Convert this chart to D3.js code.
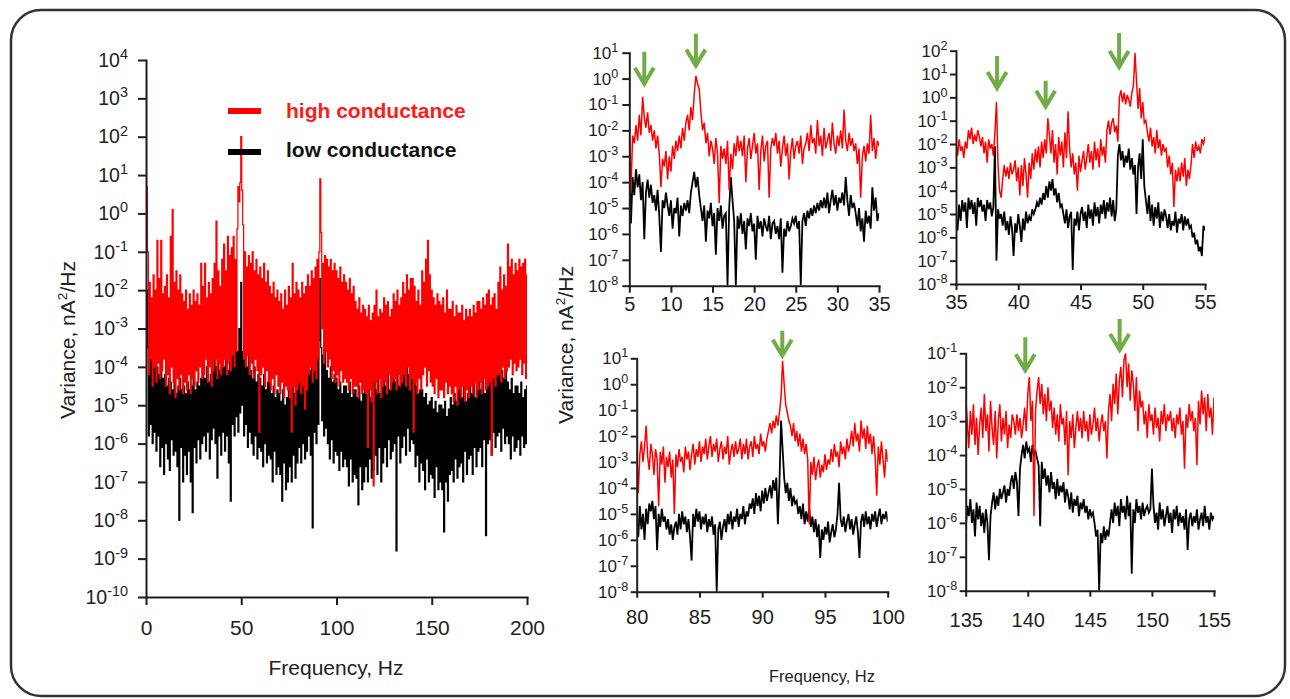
<!DOCTYPE html>
<html><head><meta charset="utf-8">
<script src="https://cdn.jsdelivr.net/npm/d3@7"></script>
<style>
html,body{margin:0;padding:0;background:#fff;}
svg{display:block;}
</style></head><body>
<svg id="chart" width="1290" height="699"></svg>
<script>
// All series values are 10*log10(variance / (nA^2/Hz)), evenly spaced over each panel's frequency range.
// Panel 0-200 Hz
const hcFull = [
36,7,-10,-42,-18,-38,-22,-45,-16,-40,
-20,-44,-7,-39,-17,-43,-7,-41,-21,-38,
-19,-45,-16,-42,-22,-47,-6,-40,1,-44,
-18,-48,-15,-43,-20,-46,-16,-42,-21,-47,
-23,-44,-20,-46,-25,-42,-21,-47,-24,-43,
-20,-45,-23,-41,-21,-44,-24,-40,-13,-43,
-19,-42,-13,-38,-22,-44,-18,-40,-21,-45,
-17,-41,-13,-38,-2,-43,-15,-39,-19,-42,
-12,-40,-8,-38,-15,-42,-6,-39,-11,-41,
-9,-37,-6,-40,-12,-36,-4,7,3,8,
20,6,-3,-38,-10,-40,-14,-37,-11,-42,
-13,-39,-10,-43,-15,-38,-12,-41,-16,-57,
-14,-42,-17,-40,-13,-45,-18,-41,-15,-44,
-19,-46,-21,-43,-18,-47,-22,-42,-20,-45,
-23,-47,-21,-44,-25,-48,-20,-45,-24,-46,
-19,-48,-22,-57,-13,-45,-21,-50,-18,-46,
-20,-44,-22,-47,-18,-45,-21,-51,-19,-46,
-16,-42,-19,-40,-15,-44,-17,-41,-14,-43,
-12,-38,-10,9,-5,-30,-13,-39,-11,-36,
-12,-40,-14,-38,-12,-43,-15,-41,-13,-44,
-15,-42,-17,-45,-14,-41,-18,-44,-16,-43,
-18,-44,-20,-46,-17,-43,-21,-47,-19,-45,
-23,-45,-25,-48,-22,-44,-26,-47,-24,-46,
-25,-47,-27,-61,-24,-46,-28,-49,-26,-71,
-24,-44,-20,-47,-27,-43,-25,-48,-26,-45,
-22,-44,-24,-47,-23,-42,-27,-46,-25,-44,
-21,-43,-23,-46,-20,-42,-24,-45,-22,-44,
-18,-42,-21,-45,-16,-40,-20,-46,-17,-43,
-17,-57,-19,-44,-23,-47,-20,-43,-24,-46,
-15,-42,-18,-40,-12,-45,-7,-41,-16,-44,
-20,-45,-22,-47,-24,-43,-21,-48,-23,-46,
-24,-46,-22,-48,-26,-44,-20,-47,-25,-45,
-25,-47,-23,-49,-27,-45,-24,-50,-26,-46,
-26,-48,-24,-45,-28,-49,-25,-46,-27,-48,
-25,-45,-27,-47,-24,-44,-26,-48,-23,-46,
-23,-44,-25,-47,-22,-43,-24,-46,-21,-45,
-20,-44,-24,-63,-22,-43,-21,-45,-25,-42,
-18,-42,-14,-44,-20,-40,-16,-43,-19,-41,
-8,-40,-14,-38,-12,-42,-16,-39,-13,-41,
-15,-40,-12,-38,-14,-42,-13,-39,-12,-43,
-16];
const lcFull = [
-13,-20,-35,-58,-32,-55,-36,-60,-34,-57,
-39,-62,-40,-58,-42,-66,-38,-61,-43,-68,
-42,-60,-45,-64,-43,-67,-44,-59,-46,-63,
-44,-62,-47,-66,-45,-80,-43,-61,-46,-70,
-45,-63,-47,-68,-44,-62,-46,-70,-45,-78,
-43,-61,-46,-65,-44,-59,-45,-64,-43,-60,
-41,-58,-43,-62,-40,-57,-44,-64,-42,-59,
-38,-56,-28,-60,-40,-69,-37,-58,-41,-63,
-37,-57,-40,-62,-36,-58,-41,-65,-38,-75,
-35,-55,-37,-58,-33,-53,-36,-57,-30,-52,
-18,-50,-36,-58,-38,-55,-40,-61,-37,-57,
-41,-60,-43,-63,-40,-58,-44,-64,-42,-61,
-43,-62,-45,-66,-42,-60,-46,-65,-44,-63,
-44,-64,-47,-70,-45,-62,-48,-68,-46,-66,
-47,-68,-49,-75,-46,-65,-50,-72,-48,-70,
-45,-66,-48,-70,-44,-63,-47,-69,-46,-65,
-42,-61,-44,-65,-41,-60,-45,-64,-43,-62,
-39,-58,-41,-63,-38,-82,-40,-57,-37,-60,
-36,-55,-33,-17,-35,-54,-37,-58,-36,-56,
-41,-60,-43,-64,-40,-59,-44,-65,-42,-62,
-43,-63,-46,-67,-44,-62,-47,-66,-45,-64,
-45,-66,-47,-71,-44,-64,-48,-70,-46,-68,
-46,-69,-48,-76,-45,-66,-49,-72,-47,-70,
-45,-66,-47,-70,-44,-64,-48,-69,-46,-67,
-44,-63,-46,-68,-43,-61,-47,-70,-45,-65,
-43,-61,-45,-66,-42,-59,-46,-64,-44,-62,
-42,-60,-44,-88,-41,-58,-45,-65,-43,-61,
-39,-58,-41,-63,-38,-56,-42,-62,-40,-59,
-37,-60,-44,-66,-45,-63,-47,-70,-46,-65,
-46,-67,-48,-72,-47,-64,-50,-70,-49,-68,
-48,-69,-51,-74,-49,-66,-52,-72,-50,-70,
-50,-72,-51,-83,-49,-70,-53,-75,-51,-68,
-48,-67,-50,-70,-47,-64,-49,-69,-46,-66,
-46,-65,-48,-70,-45,-62,-49,-68,-47,-64,
-45,-63,-47,-68,-44,-61,-48,-66,-46,-62,
-44,-61,-46,-66,-43,-59,-47,-84,-45,-60,
-41,-59,-43,-63,-40,-57,-42,-61,-41,-58,
-40,-57,-42,-62,-41,-56,-43,-60,-40,-58,
-44,-60,-46,-64,-43,-58,-47,-62,-45,-61,
-45,-59,-47,-63,-44,-58,-48,-61,-46,-60,
-45];
// Panel 5-35 Hz
const hc5to35 = [-20,-43,-22,-25,-18,-24,
-14,-22,-7,-15,-19,-13,-21,
-18,-24,-20,-27,-22,-29,-42,-31,
-34,-28,-39,-30,-36,
-26,-31,-24,-28,-22,-27,-19,-24,-17,
-14,-20,-11,-16,
-6,1,-2,-4,
-13,-20,-17,
-25,-21,-30,-24,-27,-33,-23,-29,-48,-26,-31,
-27,-33,-24,-43,-29,-35,-25,-30,-22,-28,
-24,-30,-22,-40,-27,-23,-31,-26,-21,-29,-25,-43,-28,-22,-32,-26,-24,-46,-27,-23,
-26,-21,-29,-24,-34,-27,-22,-30,-25,-39,-28,-23,-31,-26,-24,-29,-22,-33,-27,-25,
-21,-28,-18,-25,-23,-29,-16,-26,-22,-30,-19,-27,-24,-21,-28,-17,-25,-29,-22,-26,
-20,-27,-12,-24,-28,-21,-26,-23,
-28,-25,-33,-27,-46,-30,-26,-32,-25,-29,
-14,-28,-23,-31,-24,-26];
const lc5to35 = [-33,-56,-38,-45,-35,
-42,-37,-47,-40,-62,-44,-39,-46,-41,-48,
-45,-51,-43,-53,-67,-47,-50,-44,
-49,-53,-47,-58,-50,-52,-46,-61,-49,-53,-48,-51,-47,-52,
-44,-40,-36,-42,-38,-45,
-50,-55,-49,-63,-51,-54,-48,-57,-52,-68,-50,-55,-49,-58,-53,-52,
-80,-50,-38,-47,-55,-80,
-53,-58,-52,-60,-55,-66,-54,-57,-52,-59,-56,-70,-53,-58,-55,-61,-54,-57,-59,-53,-62,-56,
-55,-60,-57,-62,-54,-75,-58,-61,-55,-59,-57,-54,
-56,-53,-58,-55,-80,
-55,-52,-57,-51,-54,-50,-53,-49,-52,-48,-51,-47,-50,
-46,-50,-44,-52,-47,-43,-49,-45,-51,-46,-48,-44,
-49,-38,-47,-53,-45,-50,-48,
-52,-57,-50,-59,-54,-63,-51,-56,-53,-58,
-42,-51,-46,-55,-52];
// Panel 35-55 Hz
const hc35to55 = [-20,-25,-18,-23,-21,-26,-19,-22,
-14,-18,-13,-20,-16,-19,-14,-17,-21,
-17,-24,-19,-28,-18,-22,-20,-25,
-15,-2,
-29,-40,-43,-35,
-29,-34,-30,-35,-28,-33,-31,
-27,-36,-30,-42,-29,-38,-26,-33,-43,-28,-35,-24,-31,
-22,-28,-21,-30,-19,-26,-18,-24,
-9,
-16,-24,-14,-28,-20,-33,-17,-25,-19,-30,-15,-26,-6,
-22,-30,-24,-33,-28,-40,-25,-32,-27,-23,-31,-26,
-20,-28,-23,-31,-19,-27,-22,-30,-18,-25,-21,-28,
-14,-10,-16,-11,-9,-15,-12,
-19,
0,3,-2,2,-3,1,-1,-4,2,
5,19,
7,-5,4,-9,-2,-11,
-10,-15,-19,-13,-21,-17,-24,-14,-22,-18,-25,-20,-23,
-22,-30,-25,-33,-28,-47,-31,-36,
-30,-36,-28,-34,-26,-38,-31,-35,-29,
-20,-26,-19,-23,-21,-24,-18,-20,-17];
const lc35to55 = [-52,-57,-46,-53,-44,-49,-45,-56,-43,-48,-44,-50,-45,-55,-43,-47,-44,-49,-46,-53,-44,-48,-45,-51,-47,
-21,-70,
-48,-52,-50,-55,-49,-57,-53,-59,-51,-56,-68,-54,-58,-50,-55,-62,-52,-57,-49,-54,-51,-53,-48,-50,
-48,-45,-47,-43,-46,-41,-44,-38,-43,-36,-40,-35,-42,-39,-45,-41,-47,-46,
-50,-54,-48,-56,-51,-49,-74,-52,-55,-49,-57,-50,
-47,-53,-49,-56,-46,-52,-48,-55,-45,-51,-47,-54,-46,-50,-44,-52,-45,-49,-43,-51,-44,-53,-48,
-25,
-20,-27,-23,-30,-25,-28,-22,-31,-26,
-33,-29,-50,-30,-24,-35,-18,-38,
-44,-50,-42,-53,-46,-55,-47,-52,-45,-56,-49,-53,-48,
-51,-56,-50,-57,-53,-55,-49,-58,-52,-54,-50,-57,-51,-55,-52,-56,
-55,-60,-58,-63,-61,-66,-64,-68,-55,-57];
// Panel 80-100 Hz
const hc80to100 = [-25,-42,-27,
-22,-30,-24,-16,-28,-33,-23,-27,-35,-25,-29,-47,-26,-31,-24,-38,-28,-32,-26,-36,-29,
-50,
-27,-32,-25,-30,-28,-34,-24,-29,-26,-33,-27,-23,-31,-25,-28,-22,-30,-24,-27,-21,-29,
-24,-20,-28,-23,-26,-21,-30,-25,-22,-29,-24,-27,-20,-31,-26,-23,-28,-22,-27,-25,-21,-29,
-23,-27,-21,-29,-24,-22,-28,-20,-25,-23,-27,-19,-24,-22,-26,-21,
-18,-15,-19,-14,-17,-12,-16,-11,
-5,9,
0,-8,-11,-14,
-16,-20,-15,-22,-18,-24,-19,-26,-21,-27,-23,-29,
-54,
-30,-35,-28,-37,-32,-29,-36,-31,-34,-27,-33,-29,-31,
-25,-30,-23,-28,-26,-32,-22,-27,-24,-29,-21,-26,-23,
-18,-24,-15,-22,-19,-26,-14,-21,-17,-25,-16,-23,-19,-27,
-20,-28,-43,-24,-31,-22,-29,-36,-25,-30];
const lc80to100 = [-52,-59,-47,-56,-50,-60,-48,-54,-46,
-49,-45,-52,-47,-64,-50,-55,-48,-53,-51,-56,-52,-58,-54,-60,-55,
-53,-58,-50,-56,-49,-54,-51,-57,-52,-59,-68,-50,-55,-48,-53,-49,-56,-51,-54,-50,-57,-52,-55,-51,-58,-54,
-80,
-56,-53,-60,-55,-52,-57,-50,-54,-49,-56,-51,-53,-48,-55,-50,-52,-47,-54,-49,-51,-46,
-48,-44,-50,-42,-47,-43,-49,-41,-46,-40,-45,-42,-39,-44,-37,-41,-36,-54,-38,
-14,-25,
-36,-42,-38,-45,-40,-47,-43,-46,
-45,-50,-47,-52,-46,-54,-49,-53,-48,-55,-51,-57,-52,-59,-54,-67,-56,-60,-55,
-58,-53,-61,-57,-54,-59,-56,-50,
-38,-52,
-55,-51,-57,-53,-50,-56,-52,-58,-54,-51,-57,-67,-53,-50,-55,-49,-54,-51,-56,-50,-53,-49,-55,-51,-48,-54,-50,-52,-49,-53];
// Panel 135-155 Hz
const hc135to155 = [-23,-30,-38,-27,-34,-25,-37,-29,-40,-31,
-26,-35,-22,-33,-28,-39,-24,-32,-37,-27,-41,-30,-25,-36,-29,-34,-27,-38,-31,-35,-28,
-30,-34,-28,-33,-29,-35,-31,
-26,-33,-22,-17,-30,-24,-58,-27,-21,
-17,-25,-19,-28,-22,-30,-20,-27,-24,-32,
-26,-34,-28,-36,-25,-31,-29,-37,-27,-46,-30,-35,-28,-38,-32,-27,-33,
-29,-35,-27,-33,-30,-36,-28,-34,-31,-26,-33,-29,-36,-31,-28,-33,-30,-41,
-27,-22,-30,-19,-25,-16,-28,-18,-14,-23,-12,-10,-20,-13,-24,-15,-19,-27,-17,-33,-21,-26,
-24,-31,-27,-35,-25,-30,-28,-34,-26,-32,-29,-36,-27,-31,-25,-33,-28,-30,
-27,-33,-29,-35,-28,-31,-26,-34,-30,-44,-28,-32,-25,-30,-27,-33,-29,
-43,-24,-31,-21,-28,-23,-33,-22,-29,-26,-34,-23];
const lc135to155 = [-62,-55,-58,-53,-60,-56,-64,-54,-59,-55,-61,-57,-63,-56,-60,-71,-58,
-54,-51,-56,-52,-55,-50,-53,-51,-49,-54,-50,-52,-48,
-46,-50,-45,-48,-58,-44,
-40,-37,-41,-36,-39,-38,-42,-37,-40,-39,-41,
-43,-61,-42,-47,-44,-49,
-46,-51,-45,-50,-48,-53,-47,-52,-49,-51,-48,-54,-50,
-52,-56,-51,-57,-53,-55,-52,-58,-54,-56,-53,-57,-55,-59,-56,-58,-57,
-60,-64,-62,-80,-63,-66,-61,-65,-62,-64,-60,
-56,-60,-54,-58,-55,-61,-53,-57,-55,-59,-52,-58,-54,-75,-56,-60,-53,-57,-55,-59,-54,-58,-56,-55,-57,
-56,-44,
-55,-60,-57,-62,-54,-59,-56,-61,-58,-55,-60,-57,-63,-56,-59,-55,-61,-57,-60,-58,-62,-56,-68,-59,-57,-61,-58,-60,-56,-62,-59,-57,-61,-55,-60,-58,-62,-57,-59,-58];

// Tick values
const ticksFull = [0, 50, 100, 150, 200];
const ticks5to35 = [5, 10, 15, 20, 25, 30, 35];
const ticks35to55 = [35, 40, 45, 50, 55];
const ticks80to100 = [80, 85, 90, 95, 100];
const ticks135to155 = [135, 140, 145, 150, 155];
const expFull = [4,3,2,1,0,-1,-2,-3,-4,-5,-6,-7,-8,-9,-10];
const exp5to35 = [1,0,-1,-2,-3,-4,-5,-6,-7,-8];
const exp35to55 = [2,1,0,-1,-2,-3,-4,-5,-6,-7,-8];
const exp80to100 = [1,0,-1,-2,-3,-4,-5,-6,-7,-8];
const exp135to155 = [-1,-2,-3,-4,-5,-6,-7,-8];

// Arrows (frequency in Hz, tip level in 10*log10 units)
const arrowF5to35 = [6.8, 13.0], arrowTip5to35 = [-2, 5];
const arrowF35to55 = [38.3, 42.2, 48.1], arrowTip35to55 = [4, -4, 13];
const arrowF80to100 = [91.6], arrowTip80to100 = [11];
const arrowF135to155 = [139.8, 147.4], arrowTip135to155 = [-15, -9];

const legendLabels = ["high conductance", "low conductance"];
const legendColors = ["#ff0000", "#000000"];

// ---------- drawing ----------
const FONT = '"Liberation Sans", Arial, Helvetica, sans-serif';
const TXT = "#222";
const AX = "#1e1e1e";
const GREEN = "#70ad47";
const svg = d3.select("#chart").attr("font-family", FONT);

svg.append("rect").attr("x", 11).attr("y", 10).attr("width", 1274).attr("height", 686)
  .attr("rx", 30).attr("fill", "none").attr("stroke", "#333").attr("stroke-width", 2.5);

const panels = [
  {id:"p0", x:[146,527], y:[597,60], dom:[0,200], xTicks:ticksFull, yExp:expFull, hc:hcFull, lc:lcFull,
   yFs:19.5, xFs:21, tick:8, yPad:10, xPad:15, lwR:1.25, lwB:1.25, curve:d3.curveStep, arrF:[], arrT:[], arrLen:[]},
  {id:"p1", x:[629.3,879], y:[285.7,52.7], dom:[5,35], xTicks:ticks5to35, yExp:exp5to35, hc:hc5to35, lc:lc5to35,
   yFs:17, xFs:20, tick:7, yPad:4, xPad:4, lwR:1.5, lwB:1.8, curve:d3.curveLinear, arrF:arrowF5to35, arrT:arrowTip5to35, arrLen:[32,32]},
  {id:"p2", x:[956,1205], y:[284,50.7], dom:[35,55], xTicks:ticks35to55, yExp:exp35to55, hc:hc35to55, lc:lc35to55,
   yFs:17, xFs:20, tick:6, yPad:2.5, xPad:5, lwR:1.5, lwB:1.8, curve:d3.curveLinear, arrF:arrowF35to55, arrT:arrowTip35to55, arrLen:[32,26,34]},
  {id:"p3", x:[636.7,887.7], y:[591.7,358.3], dom:[80,100], xTicks:ticks80to100, yExp:exp80to100, hc:hc80to100, lc:lc80to100,
   yFs:17, xFs:20, tick:6, yPad:2.5, xPad:12, lwR:1.5, lwB:1.8, curve:d3.curveLinear, arrF:arrowF80to100, arrT:arrowTip80to100, arrLen:[25]},
  {id:"p4", x:[965.7,1214], y:[590.7,353.3], dom:[135,155], xTicks:ticks135to155, yExp:exp135to155, hc:hc135to155, lc:lc135to155,
   yFs:17, xFs:20, tick:6, yPad:2.5, xPad:16, lwR:1.5, lwB:1.8, curve:d3.curveLinear, arrF:arrowF135to155, arrT:arrowTip135to155, arrLen:[33,31]}
];

const defs = svg.append("defs");

panels.forEach(p => {
  const e0 = d3.min(p.yExp), e1 = d3.max(p.yExp);
  const xs = d3.scaleLinear().domain(p.dom).range(p.x);
  const ys = d3.scaleLog().domain([Math.pow(10, e0), Math.pow(10, e1)]).range(p.y);
  const g = svg.append("g");

  defs.append("clipPath").attr("id", "clip-" + p.id).append("rect")
    .attr("x", p.x[0]).attr("y", p.y[1] - 3).attr("width", p.x[1] - p.x[0]).attr("height", p.y[0] - p.y[1] + 3);

  const line = d3.line()
    .x((d, i, arr) => xs(p.dom[0] + i * (p.dom[1] - p.dom[0]) / (arr.length - 1)))
    .y(d => ys(Math.pow(10, d / 10)))
    .curve(p.curve);

  const plot = g.append("g").attr("clip-path", `url(#clip-${p.id})`);
  plot.append("path").datum(p.lc).attr("d", line).attr("fill", "none")
    .attr("stroke", legendColors[1]).attr("stroke-width", p.lwB).attr("stroke-linejoin", "miter");
  plot.append("path").datum(p.hc).attr("d", line).attr("fill", "none")
    .attr("stroke", legendColors[0]).attr("stroke-width", p.lwR).attr("stroke-linejoin", "miter");

  // x axis
  const gx = g.append("g").attr("transform", `translate(0,${p.y[0]})`)
    .call(d3.axisBottom(xs).tickValues(p.xTicks).tickSize(p.tick).tickSizeOuter(0)
      .tickPadding(p.xPad).tickFormat(d3.format("d")));
  gx.attr("font-family", FONT).attr("font-size", p.xFs);
  gx.select(".domain").attr("stroke", AX).attr("stroke-width", 2).attr("stroke-linecap", "square");
  gx.selectAll(".tick line").attr("stroke", AX).attr("stroke-width", 2);
  gx.selectAll(".tick text").attr("fill", TXT);

  // y axis
  const gy = g.append("g").attr("transform", `translate(${p.x[0]},0)`)
    .call(d3.axisLeft(ys).tickValues(p.yExp.map(e => Math.pow(10, e))).tickSize(p.tick).tickSizeOuter(0)
      .tickPadding(p.yPad).tickFormat(() => ""));
  gy.attr("font-family", FONT).attr("font-size", p.yFs);
  gy.select(".domain").attr("stroke", AX).attr("stroke-width", 2).attr("stroke-linecap", "square");
  gy.selectAll(".tick line").attr("stroke", AX).attr("stroke-width", 2);
  gy.selectAll(".tick text").each(function(d) {
    const e = Math.round(Math.log10(d));
    const t = d3.select(this).attr("fill", TXT).text(null);
    t.append("tspan").text("10");
    t.append("tspan").attr("dy", -0.4 * p.yFs).attr("font-size", 0.74 * p.yFs).text(String(e));
  });

  // arrows
  p.arrF.forEach((f, i) => {
    const x = xs(f), yt = ys(Math.pow(10, p.arrT[i] / 10)), L = p.arrLen[i];
    g.append("path")
      .attr("d", `M${x},${yt - L}L${x},${yt}M${x - 9.5},${yt - 16}L${x},${yt}L${x + 9.5},${yt - 16}`)
      .attr("fill", "none").attr("stroke", GREEN).attr("stroke-width", 4)
      .attr("stroke-linejoin", "miter").attr("stroke-linecap", "butt");
  });
});

// legend
const legY = [111, 152];
legendLabels.forEach((lab, i) => {
  svg.append("line").attr("x1", 228).attr("x2", 261).attr("y1", legY[i]).attr("y2", legY[i])
    .attr("stroke", legendColors[i]).attr("stroke-width", 6);
  svg.append("text").attr("x", 286).attr("y", legY[i] - (i ? 2 : 0)).attr("dy", "0.35em")
    .attr("font-family", FONT).attr("font-weight", "bold").attr("font-size", 21)
    .attr("fill", i === 0 ? "#ff1a1a" : "#111").text(lab);
});

// axis titles
function yTitle(cx, cy, fs) {
  const t = svg.append("text").attr("transform", `translate(${cx},${cy}) rotate(-90)`)
    .attr("text-anchor", "middle").attr("dy", "0.35em")
    .attr("font-family", FONT).attr("font-size", fs).attr("fill", TXT);
  t.append("tspan").text("Variance, nA");
  t.append("tspan").attr("dy", -0.4 * fs).attr("font-size", 0.65 * fs).text("2");
  t.append("tspan").attr("dy", 0.4 * fs).text("/Hz");
}
yTitle(68, 340, 21);
yTitle(566, 345, 21);

svg.append("text").attr("x", 336).attr("y", 675).attr("text-anchor", "middle")
  .attr("font-family", FONT).attr("font-size", 21).attr("fill", TXT).text("Frequency, Hz");
svg.append("text").attr("x", 822).attr("y", 682).attr("text-anchor", "middle")
  .attr("font-family", FONT).attr("font-size", 16.5).attr("fill", TXT).text("Frequency, Hz");
</script>
</body></html>
